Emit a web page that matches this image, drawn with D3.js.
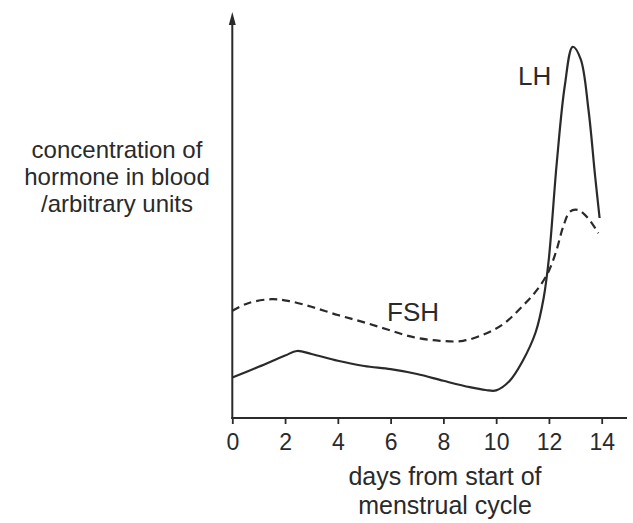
<!DOCTYPE html>
<html>
<head>
<meta charset="utf-8">
<script src="https://cdn.jsdelivr.net/npm/d3@7"></script>
<style>
  html, body { margin: 0; padding: 0; background: #fff; }
  svg { display: block; }
  text { font-family: "Liberation Sans", Arial, sans-serif; fill: #2a2a2a; }
</style>
</head>
<body>
<svg id="chart" width="633" height="523"></svg>
<script>
// ---- data ----
const xTicks = [0, 2, 4, 6, 8, 10, 12, 14];
const lhDays   = [0, 1, 2, 2.45, 3, 4, 5, 6, 7, 8, 9, 9.6, 10, 10.5, 11, 11.5, 11.8, 12, 12.3, 12.6, 12.9, 13.2, 13.5, 13.75, 13.92];
const lhValues = [10.1, 12.8, 15.6, 16.75, 16.0, 14.3, 13.0, 12.2, 11.0, 9.3, 7.7, 7.0, 6.9, 9.2, 14.2, 21.5, 30, 40, 64, 83, 92.8, 89.8, 77, 60.5, 50];
const fshDays   = [0, 0.6, 1.48, 2.11, 3, 4, 4.9, 5.85, 6.86, 7.87, 8.75, 9.64, 10.3, 11.0, 11.4, 11.7, 12.0, 12.29, 12.54, 12.8, 13.1, 13.49, 13.87];
const fshValues = [26.8, 28.7, 29.7, 29.3, 27.8, 25.75, 24.1, 22.2, 20.2, 19.3, 19.3, 21.2, 23.6, 28.0, 30.8, 33.4, 36.8, 42, 47.8, 51.6, 52, 49.9, 46.2];
const yLabelLines = ["concentration of", "hormone in blood", "/arbitrary units"];
const xLabelLines = ["days from start of", "menstrual cycle"];

const svg = d3.select("#chart");
const ink = "#2a2a2a";

const x = d3.scaleLinear().domain([0, 14]).range([232.3, 601.7]);
const y = d3.scaleLinear().domain([0, 100]).range([418, 18]);

// x axis
const xAxis = d3.axisBottom(x).tickValues(xTicks).tickSize(6).tickSizeOuter(0).tickPadding(10);
const gx = svg.append("g").attr("transform", "translate(0,418)").call(xAxis);
gx.select(".domain").remove();
gx.selectAll(".tick line").attr("stroke", ink).attr("stroke-width", 1.8);
gx.selectAll(".tick text").style("font-size", "23px").attr("fill", ink)
  .style("font-family", '"Liberation Sans", Arial, sans-serif');
svg.append("line").attr("x1", x(0) - 1).attr("x2", 627).attr("y1", 418).attr("y2", 418)
  .attr("stroke", ink).attr("stroke-width", 2);

// y axis with arrow
svg.append("line").attr("x1", x(0)).attr("x2", x(0)).attr("y1", 419).attr("y2", 20)
  .attr("stroke", ink).attr("stroke-width", 2);
const ax = x(0);
svg.append("path").attr("d", `M${ax},12 L${ax - 3.5},25 L${ax + 3.5},25 Z`).attr("fill", ink);

// lines
const line = d3.line().x(d => x(d[0])).y(d => y(d[1])).curve(d3.curveCatmullRom.alpha(0.5));
const lh = lhDays.map((d, i) => [d, lhValues[i]]);
const fsh = fshDays.map((d, i) => [d, fshValues[i]]);

svg.append("path").datum(fsh).attr("d", line).attr("fill", "none")
  .attr("stroke", ink).attr("stroke-width", 2.2).attr("stroke-dasharray", "8,5");
svg.append("path").datum(lh).attr("d", line).attr("fill", "none")
  .attr("stroke", ink).attr("stroke-width", 2.2);

// labels
svg.append("text").attr("x", 518).attr("y", 85).style("font-size", "26px").text("LH");
svg.append("text").attr("x", 387).attr("y", 321).style("font-size", "26px").text("FSH");

yLabelLines.forEach((t, i) => svg.append("text").attr("text-anchor", "middle")
  .style("font-size", "24px").attr("x", 117).attr("y", 158 + i * 27).text(t));

xLabelLines.forEach((t, i) => svg.append("text").attr("text-anchor", "middle")
  .style("font-size", "25px").attr("x", 445).attr("y", 485 + i * 29).text(t));
</script>
</body>
</html>
